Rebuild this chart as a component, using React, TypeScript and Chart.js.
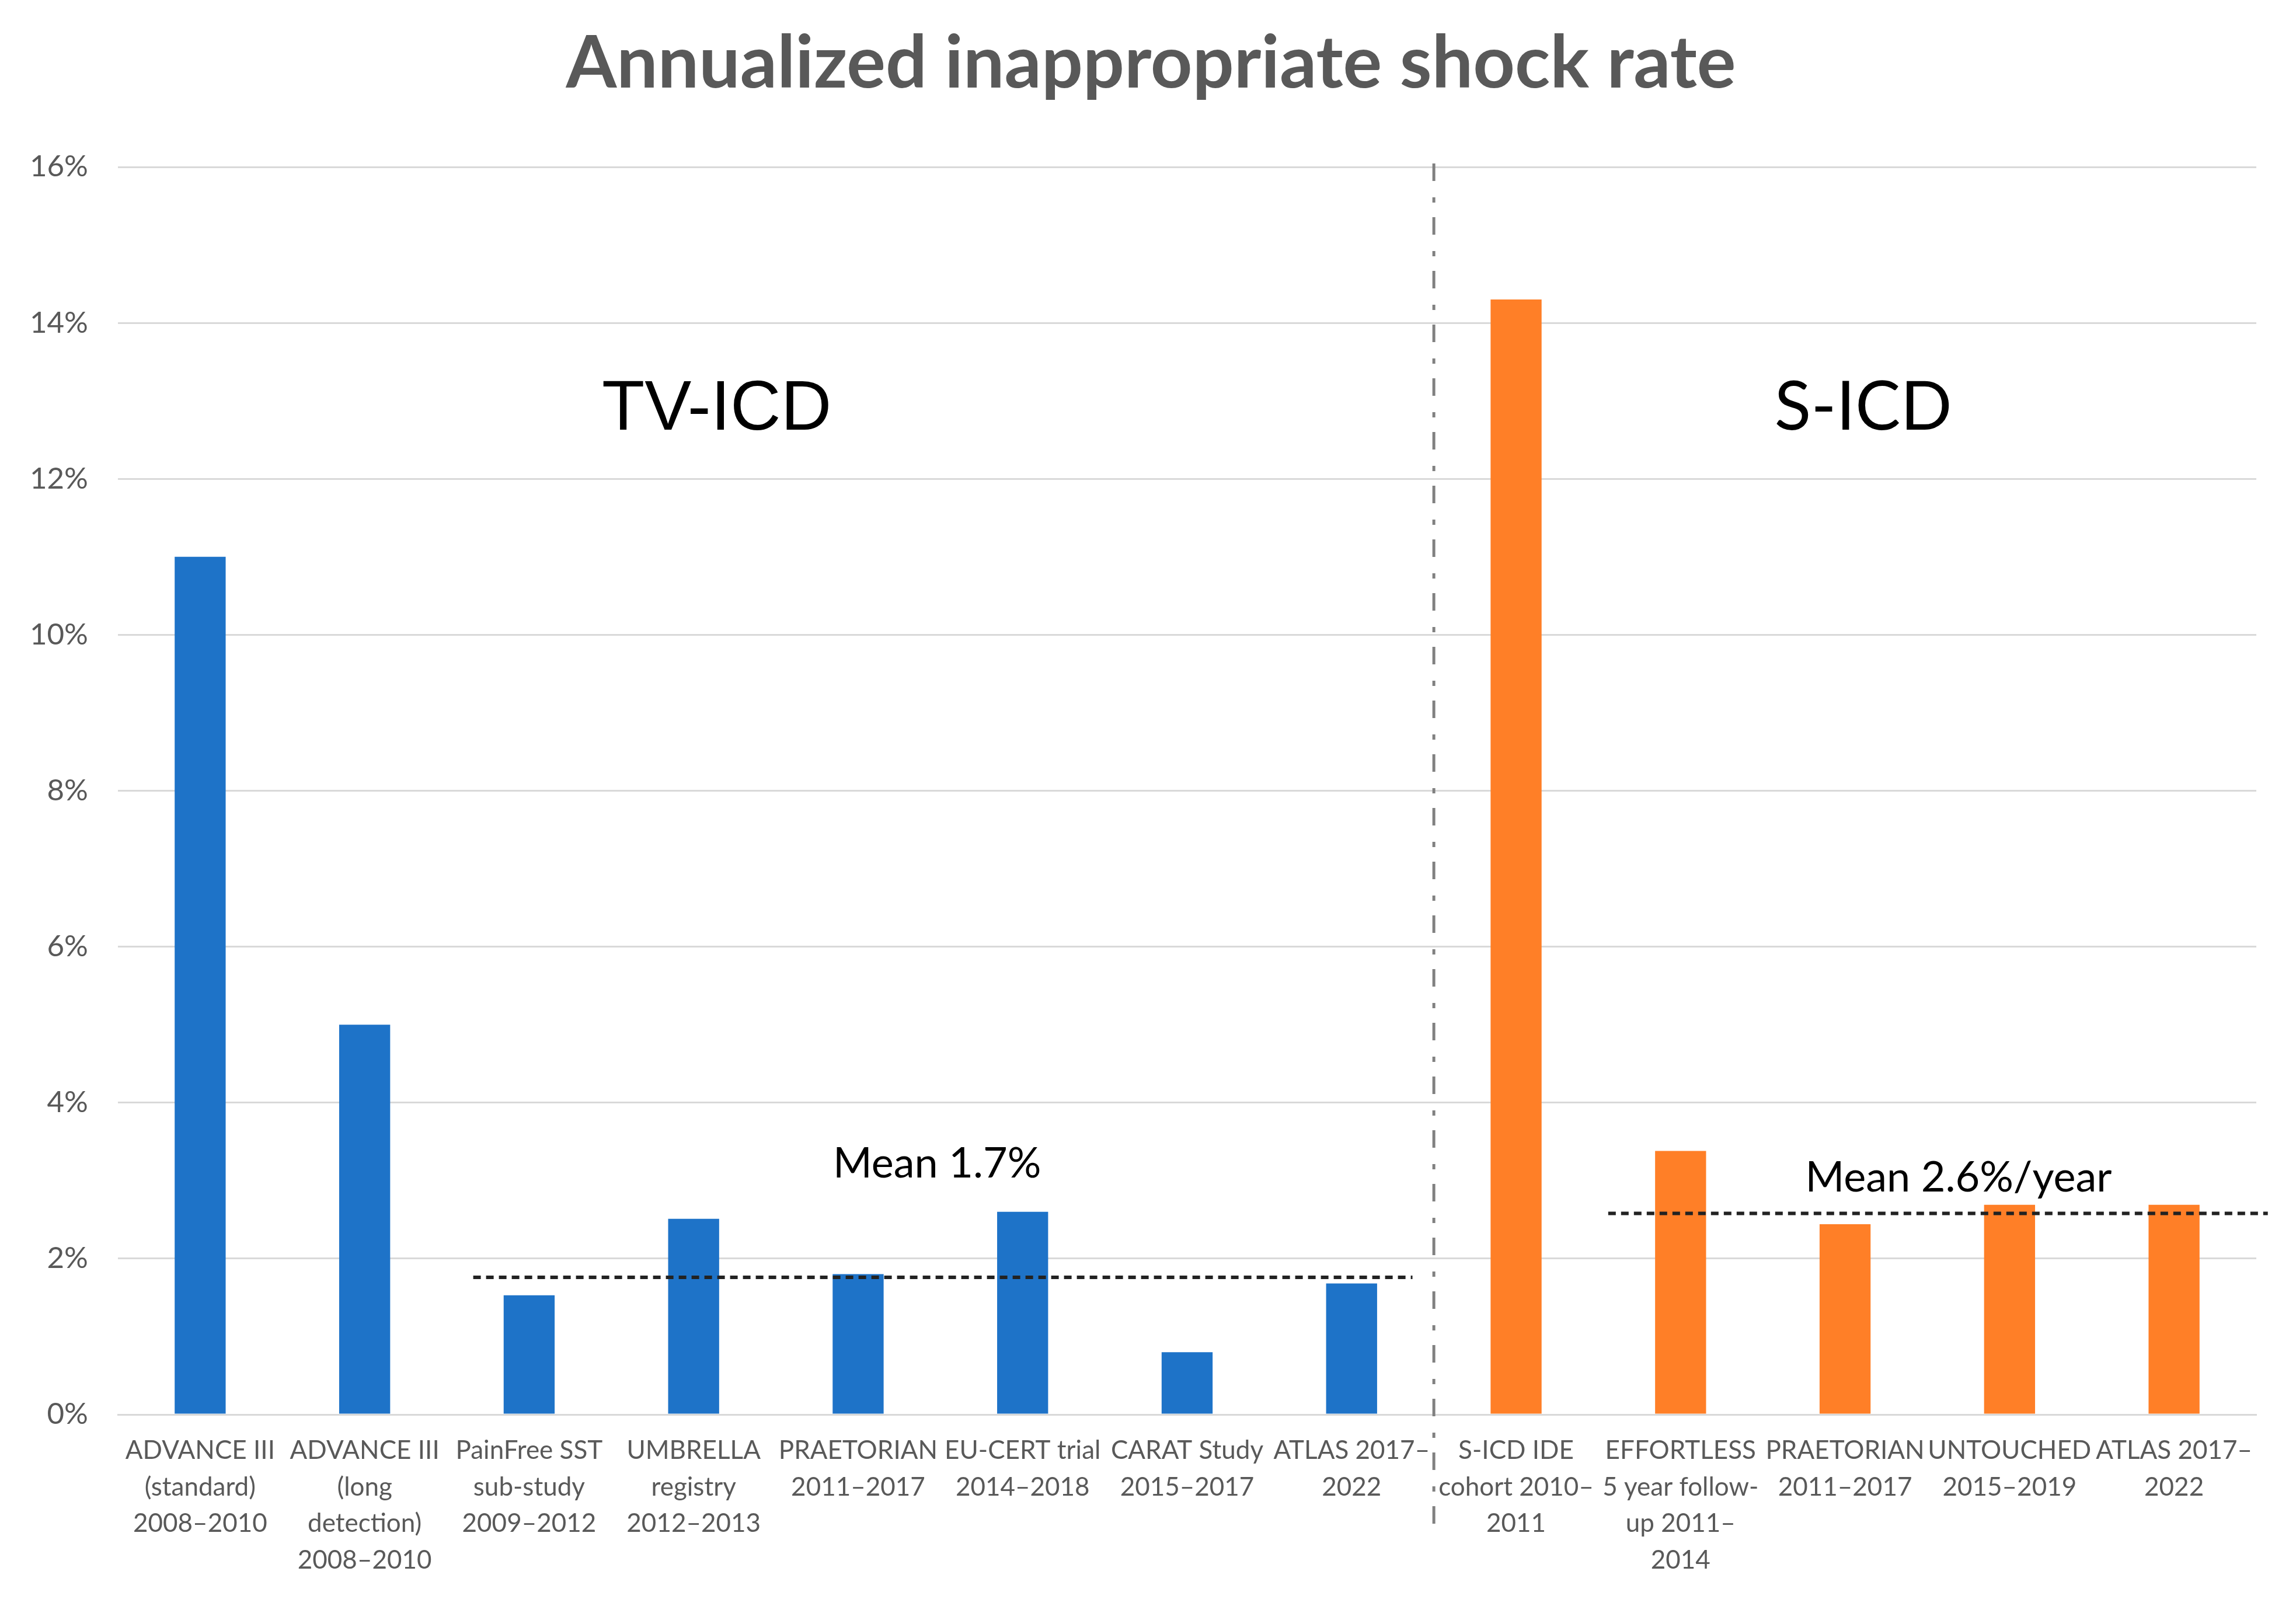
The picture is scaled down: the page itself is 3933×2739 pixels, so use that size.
import React, { useEffect, useRef } from "react";
import { Chart, registerables } from "chart.js";

Chart.register(...registerables);

// ---- Data ----
const categories: string[][] = [
  ["ADVANCE III", "(standard)", "2008–2010"],
  ["ADVANCE III", "(long", "detection)", "2008–2010"],
  ["PainFree SST", "sub-study", "2009–2012"],
  ["UMBRELLA", "registry", "2012–2013"],
  ["PRAETORIAN", "2011–2017"],
  ["EU-CERT trial", "2014–2018"],
  ["CARAT Study", "2015–2017"],
  ["ATLAS 2017–", "2022"],
  ["S-ICD IDE", "cohort 2010–", "2011"],
  ["EFFORTLESS", "5 year follow-", "up 2011–", "2014"],
  ["PRAETORIAN", "2011–2017"],
  ["UNTOUCHED", "2015–2019"],
  ["ATLAS 2017–", "2022"],
];

const tvIcdRates: (number | null)[] = [11.0, 5.0, 1.53, 2.51, 1.8, 2.6, 0.8, 1.68, null, null, null, null, null];
const sIcdRates: (number | null)[] = [null, null, null, null, null, null, null, null, 14.3, 3.38, 2.44, 2.69, 2.69];

const seriesNames = ["TV-ICD", "S-ICD"];
const meanValues = [1.76, 2.58];
const meanLabels = ["Mean 1.7%", "Mean 2.6%/year"];
const meanSpanStart = [1.66, 8.56];
const meanSpanEnd = [7.37, 12.57];
const groupDividerAt = 7.5;

const yMin = 0;
const yMax = 16;
const yStep = 2;

const TITLE = "Annualized inappropriate shock rate";

// ---- Styles / layout constants ----
const W = 3933;
const H = 2739;
const BLUE = "#1E73C8";
const ORANGE = "#FF7F27";
const TEXT_GRAY = "#595959";
const GRID = "#d9d9d9";
const FONT = 'Lato, "Noto Sans", sans-serif';

// annotation anchors (in data units: category index, value)
const groupLabelPos = [
  { x: 3.14, y: 12.63, font: '120px "Liberation Sans", Arial, sans-serif' },
  { x: 10.11, y: 12.63, font: "116px " + FONT },
];
const meanLabelPos = [
  { x: 4.48, y: 3.04 },
  { x: 10.69, y: 2.86 },
];

const overlayPlugin = {
  id: "overlay",
  afterDatasetsDraw(chart: any) {
    const { ctx, chartArea } = chart;
    const xs = chart.scales.x;
    const ys = chart.scales.y;
    ctx.save();
    // mean dashed lines
    ctx.strokeStyle = "#222";
    ctx.lineWidth = 6;
    ctx.setLineDash([13, 9]);
    meanValues.forEach((m, i) => {
      const py = ys.getPixelForValue(m);
      ctx.beginPath();
      ctx.moveTo(xs.getPixelForValue(meanSpanStart[i]), py);
      ctx.lineTo(xs.getPixelForValue(meanSpanEnd[i]), py);
      ctx.stroke();
    });
    // group divider (dash-dot)
    const dx = xs.getPixelForValue(groupDividerAt);
    ctx.strokeStyle = "#808080";
    ctx.lineWidth = 5;
    ctx.setLineDash([30, 28, 9, 25]);
    ctx.beginPath();
    ctx.moveTo(dx, chartArea.top - 6);
    ctx.lineTo(dx, chartArea.bottom + 194);
    ctx.stroke();
    ctx.restore();
  },
  afterDraw(chart: any) {
    const { ctx } = chart;
    const xs = chart.scales.x;
    const ys = chart.scales.y;
    ctx.save();
    // title
    ctx.fillStyle = TEXT_GRAY;
    ctx.font = "bold 125px " + FONT;
    ctx.textAlign = "center";
    ctx.textBaseline = "alphabetic";
    ctx.fillText(TITLE, chart.width / 2 + 5, 150);
    // group labels
    ctx.fillStyle = "#000";
    seriesNames.forEach((name, i) => {
      const p = groupLabelPos[i];
      ctx.font = p.font;
      ctx.fillText(name, xs.getPixelForValue(p.x), ys.getPixelForValue(p.y));
    });
    // mean labels
    ctx.font = "72px " + FONT;
    meanLabels.forEach((t, i) => {
      const p = meanLabelPos[i];
      ctx.fillText(t, xs.getPixelForValue(p.x), ys.getPixelForValue(p.y));
    });
    ctx.restore();
  },
};

export default function App() {
  const ref = useRef<HTMLCanvasElement | null>(null);

  useEffect(() => {
    if (!ref.current) return;
    const chart = new Chart(ref.current, {
      type: "bar",
      data: {
        labels: categories,
        datasets: [
          {
            label: seriesNames[0],
            data: tvIcdRates,
            backgroundColor: BLUE,
            grouped: false,
            categoryPercentage: 1,
            barPercentage: 0.31,
          } as any,
          {
            label: seriesNames[1],
            data: sIcdRates,
            backgroundColor: ORANGE,
            grouped: false,
            categoryPercentage: 1,
            barPercentage: 0.31,
          } as any,
        ],
      },
      options: {
        animation: false,
        responsive: true,
        maintainAspectRatio: false,
        devicePixelRatio: 1,
        layout: { padding: { top: 286, left: 0, right: 68, bottom: 0 } },
        plugins: {
          legend: { display: false },
          title: { display: false },
          tooltip: { enabled: false },
        },
        scales: {
          x: {
            grid: { display: false },
            border: { display: true, color: GRID, width: 3 },
            ticks: {
              autoSkip: false,
              maxRotation: 0,
              minRotation: 0,
              color: TEXT_GRAY,
              padding: 22,
              font: { family: FONT, size: 44, lineHeight: 1.43 },
            },
            afterFit(scale: any) {
              scale.height = 316;
            },
          },
          y: {
            min: yMin,
            max: yMax,
            border: { display: false },
            grid: { color: GRID, lineWidth: 3, drawTicks: false },
            ticks: {
              stepSize: yStep,
              color: TEXT_GRAY,
              padding: 51,
              font: { family: FONT, size: 51 },
              callback: (v: any) => v + "%",
            },
            afterFit(scale: any) {
              scale.width = 202;
            },
          },
        },
      },
      plugins: [overlayPlugin],
    });
    return () => chart.destroy();
  }, []);

  return (
    <div style={{ position: "fixed", left: 0, top: 0, width: W, height: H, background: "#fff" }}>
      <canvas ref={ref} />
    </div>
  );
}
